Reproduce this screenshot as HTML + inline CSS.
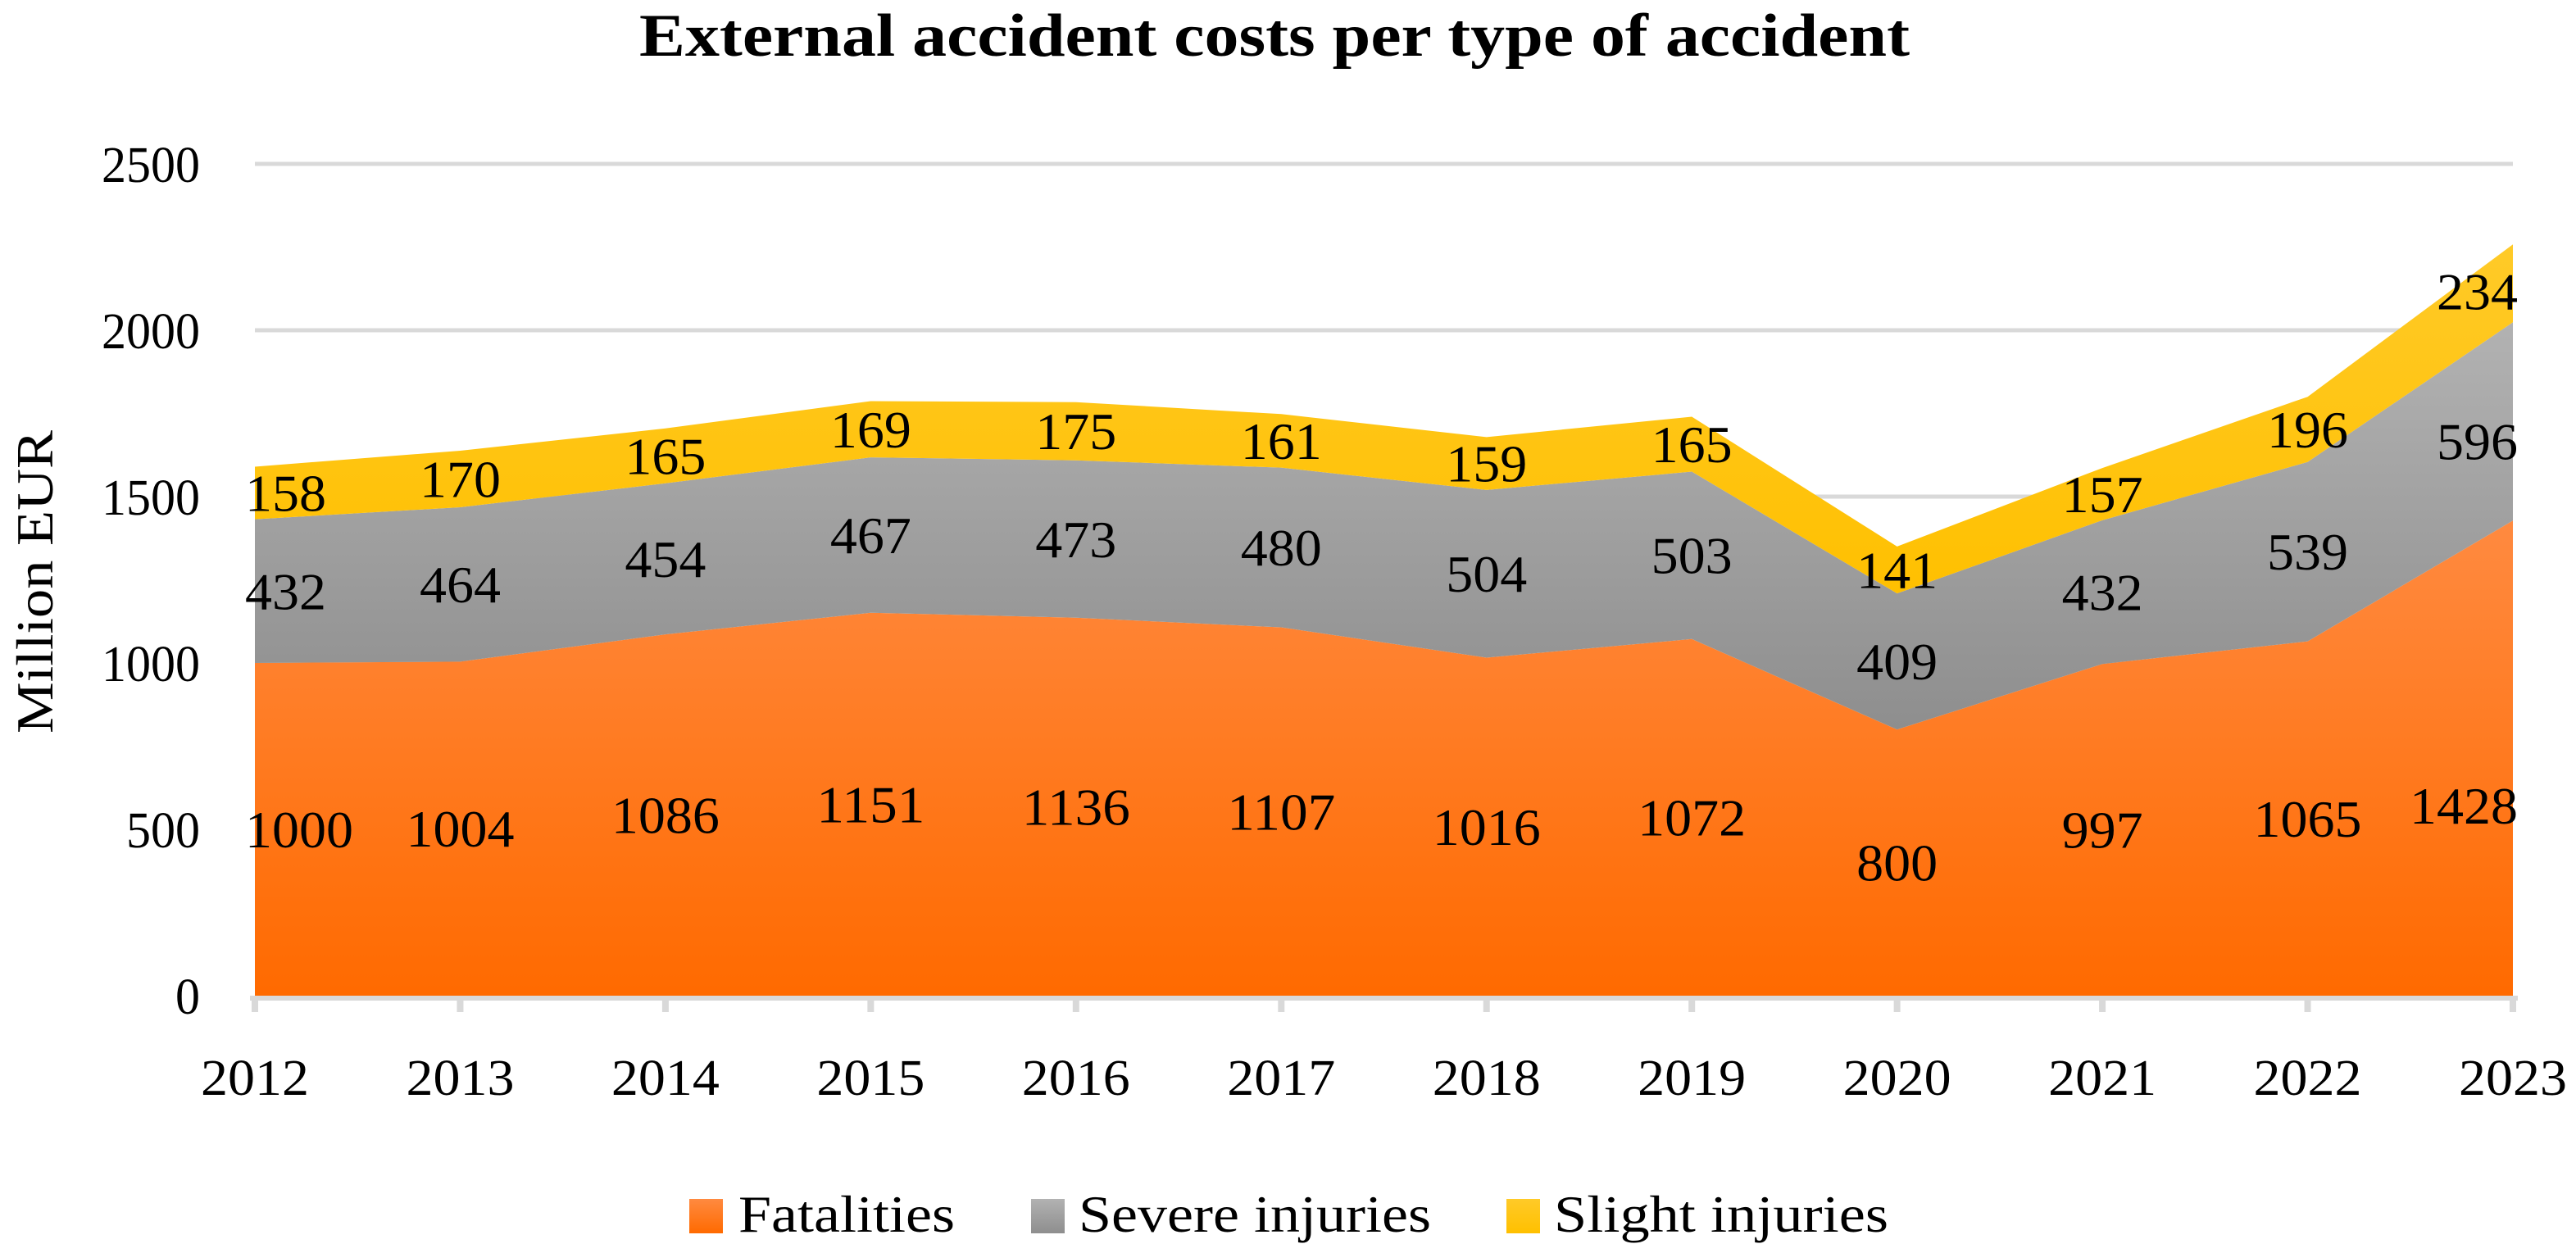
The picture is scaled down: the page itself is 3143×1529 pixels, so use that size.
<!DOCTYPE html>
<html><head><meta charset="utf-8"><style>
html,body{margin:0;padding:0;background:#fff;}
svg{display:block;font-family:"Liberation Serif",serif;}
</style></head><body>
<svg id="chart" width="3143" height="1529" viewBox="0 0 3143 1529" xmlns="http://www.w3.org/2000/svg">
<defs>
<linearGradient id="gOrange" x1="0" y1="0" x2="0" y2="1"><stop offset="0" stop-color="#FF8A40"/><stop offset="1" stop-color="#FF6A00"/></linearGradient>
<linearGradient id="gGray" x1="0" y1="0" x2="0" y2="1"><stop offset="0" stop-color="#B2B2B2"/><stop offset="1" stop-color="#8E8E8E"/></linearGradient>
<linearGradient id="gYellow" x1="0" y1="0" x2="0" y2="1"><stop offset="0" stop-color="#FFCA28"/><stop offset="1" stop-color="#FFC000"/></linearGradient>
</defs>
<text x="780" y="68" font-size="74" font-weight="bold" textLength="1550" lengthAdjust="spacingAndGlyphs">External accident costs per type of accident</text>
<text transform="translate(64,710) rotate(-90)" text-anchor="middle" font-size="64" textLength="370" lengthAdjust="spacingAndGlyphs">Million EUR</text>
<g id="grid"></g><g id="areas"></g><g id="axis"></g><g id="labels"></g>
<g>
<rect x="841" y="1463" width="41" height="42" fill="url(#gOrange)"/>
<text x="901" y="1503" font-size="64" textLength="264" lengthAdjust="spacingAndGlyphs">Fatalities</text>
<rect x="1258" y="1463" width="41" height="42" fill="url(#gGray)"/>
<text x="1316" y="1503" font-size="64" textLength="430" lengthAdjust="spacingAndGlyphs">Severe injuries</text>
<rect x="1838" y="1463" width="41" height="42" fill="url(#gYellow)"/>
<text x="1896" y="1503" font-size="64" textLength="408" lengthAdjust="spacingAndGlyphs">Slight injuries</text>
</g>
</svg>
<script>
const years = ["2012","2013","2014","2015","2016","2017","2018","2019","2020","2021","2022","2023"];
const fatalities = [1000,1004,1086,1151,1136,1107,1016,1072,800,997,1065,1428];
const severe = [432,464,454,467,473,480,504,503,409,432,539,596];
const slight = [158,170,165,169,175,161,159,165,141,157,196,234];
const yTicks = [0,500,1000,1500,2000,2500];

const NS="http://www.w3.org/2000/svg";
const X0=311,X1=3066,Y0=1215,Y1=200,YMAX=2500;
const xs=i=>X0+(X1-X0)*i/(years.length-1);
const ys=v=>Y0-(Y0-Y1)*v/YMAX;
function mk(tag,attrs,parent){const e=document.createElementNS(NS,tag);for(const k in attrs)e.setAttribute(k,attrs[k]);parent.appendChild(e);return e;}
const grid=document.getElementById('grid'),areas=document.getElementById('areas'),axis=document.getElementById('axis'),labels=document.getElementById('labels');

yTicks.forEach(t=>{
  if(t>0){const l=mk('line',{x1:X0,x2:X1,y1:ys(t),y2:ys(t),stroke:'#d9d9d9','stroke-width':5},grid);
  
  }
  const tx=mk('text',{x:244,y:ys(t)+22,'text-anchor':'end','font-size':62,textLength:String(t).length*30,lengthAdjust:'spacingAndGlyphs'},grid);
  tx.textContent=t;
  
  
});

const series=[{name:'fatalities',vals:fatalities,fill:'url(#gOrange)'},{name:'severe-injuries',vals:severe,fill:'url(#gGray)'},{name:'slight-injuries',vals:slight,fill:'url(#gYellow)'}];
let base=years.map(()=>0);
series.forEach(s=>{
  const top=base.map((b,i)=>b+s.vals[i]);
  let d='M'+years.map((_,i)=>xs(i)+','+ys(top[i])).join(' L');
  for(let i=years.length-1;i>=0;i--)d+=' L'+xs(i)+','+ys(base[i]);
  d+=' Z';
  const p=mk('path',{d:d,fill:s.fill},areas);
  
  
  years.forEach((y,i)=>{
    const last=i===years.length-1;
    const pos=base[i]+s.vals[i]*(last?0.4:0.5);
    const str=String(s.vals[i]);
    const w=str.length*33;
    let cx=Math.max(X0+w/2-12,Math.min(X1-w/2+6,xs(i)));
    const t=mk('text',{x:cx,y:ys(pos)+22,'text-anchor':'middle','font-size':64,textLength:w,lengthAdjust:'spacingAndGlyphs'},labels);
    t.textContent=str;
    
    
  });
  base=top;
});

const ax=mk('line',{x1:X0-6,x2:X1+6,y1:Y0+3,y2:Y0+3,stroke:'#d9d9d9','stroke-width':6},axis);


years.forEach((y,i)=>{
  const tk=mk('line',{x1:xs(i),x2:xs(i),y1:Y0,y2:Y0+20,stroke:'#d9d9d9','stroke-width':8},axis);
  
  
  const t=mk('text',{x:xs(i),y:1336,'text-anchor':'middle','font-size':62,textLength:132,lengthAdjust:'spacingAndGlyphs'},axis);
  t.textContent=y;
  
  
});
</script>
</body></html>
